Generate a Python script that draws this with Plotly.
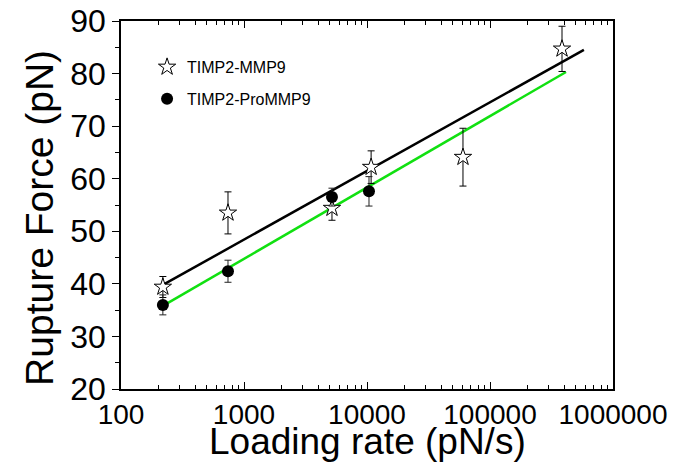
import plotly.graph_objects as go

# TIMP2-MMP9 (open stars)
mmp9_rate = [219, 741, 5190, 10800, 60300, 385000]
mmp9_force = [39.4, 53.5, 54.4, 62.2, 64.1, 84.7]
mmp9_err = [2.0, 4.0, 2.3, 3.1, 5.5, 4.3]

# TIMP2-ProMMP9 (filled circles)
pro_rate = [219, 741, 5190, 10380]
pro_force = [36.0, 42.4, 56.5, 57.6]
pro_err = [1.9, 2.1, 1.7, 2.8]

# linear fits in log(rate), drawn from their end points
fit_mmp9_rate = [219, 580000]
fit_mmp9_force = [39.8, 84.5]
fit_pro_rate = [219, 415000]
fit_pro_force = [35.8, 80.3]

x_tickvals = [100, 1000, 10000, 100000, 1000000]
x_ticktext = ["100", "1000", "10000", "100000", "1000000"]
y_tickvals = [20, 30, 40, 50, 60, 70, 80, 90]

# minor ticks 2..9 in every decade
x_minor = [m * 10 ** e for e in range(2, 6) for m in range(2, 10)]

FONT = "Arial, Liberation Sans, sans-serif"

fig = go.Figure()

fig.add_trace(go.Scatter(
    x=fit_mmp9_rate, y=fit_mmp9_force, mode="lines",
    line=dict(color="black", width=2.5), showlegend=False, hoverinfo="skip"
))
fig.add_trace(go.Scatter(
    x=fit_pro_rate, y=fit_pro_force, mode="lines",
    line=dict(color="#11e011", width=2.5), showlegend=False, hoverinfo="skip"
))

fig.add_trace(go.Scatter(
    x=mmp9_rate, y=mmp9_force, mode="markers", name="TIMP2-MMP9",
    legendgroup="a",
    marker=dict(symbol="star", size=13, color="white",
                line=dict(color="black", width=1)),
    error_y=dict(type="data", array=mmp9_err, color="black", thickness=1, width=3.5)
))
fig.add_trace(go.Scatter(
    x=pro_rate, y=pro_force, mode="markers", name="TIMP2-ProMMP9",
    legendgroup="b",
    marker=dict(symbol="circle", size=12, color="black"),
    error_y=dict(type="data", array=pro_err, color="#222222", thickness=1, width=3.5)
))

# page body adds a few px offset, so margins are trimmed by that
fig.update_layout(
    width=679, height=463,
    margin=dict(l=113, r=74, t=13, b=82),
    paper_bgcolor="white", plot_bgcolor="white",
    font=dict(family=FONT, color="black"),
    legend=dict(x=0.053, y=0.921, xanchor="left", yanchor="top",
                bgcolor="rgba(0,0,0,0)", font=dict(size=16),
                tracegroupgap=8),
    xaxis=dict(
        type="log", range=[2, 6], automargin=False,
        tickvals=x_tickvals, ticktext=x_ticktext,
        ticks="inside", ticklen=7, tickwidth=1.2, tickcolor="black",
        minor=dict(ticks="inside", ticklen=4, tickwidth=1, tickcolor="black",
                   tickvals=x_minor, showgrid=False),
        showline=True, linecolor="black", linewidth=1.5, mirror="allticks",
        showgrid=False, zeroline=False, ticklabeloverflow="allow",
        tickfont=dict(size=28),
    ),
    yaxis=dict(
        range=[20, 90], tickvals=y_tickvals, automargin=False,
        ticks="outside", ticklen=7, tickwidth=1.2, tickcolor="black",
        minor=dict(dtick=5, ticks="outside", ticklen=4, tickwidth=1,
                   tickcolor="black", showgrid=False),
        showline=True, linecolor="black", linewidth=1.5, mirror=True,
        showgrid=False, zeroline=False, ticklabeloverflow="allow",
        tickfont=dict(size=32),
    ),
    yaxis2=dict(
        range=[20, 90], overlaying="y", side="right", tickvals=y_tickvals,
        ticks="inside", ticklen=6, tickwidth=1.2, tickcolor="black",
        minor=dict(dtick=5, ticks="inside", ticklen=5, tickwidth=1,
                   tickcolor="black", showgrid=False),
        showticklabels=False, showgrid=False, zeroline=False, showline=False,
        automargin=False,
    ),
)

fig.add_annotation(
    text="Loading rate (pN/s)", xref="paper", yref="paper",
    x=0.5, y=-0.144, xanchor="center", yanchor="middle",
    showarrow=False, font=dict(size=37)
)
fig.add_annotation(
    text="Rupture Force (pN)", xref="paper", yref="paper", textangle=-90,
    x=-0.1646, y=0.465, xanchor="center", yanchor="middle",
    showarrow=False, font=dict(size=39)
)

fig.write_html("out.html")
